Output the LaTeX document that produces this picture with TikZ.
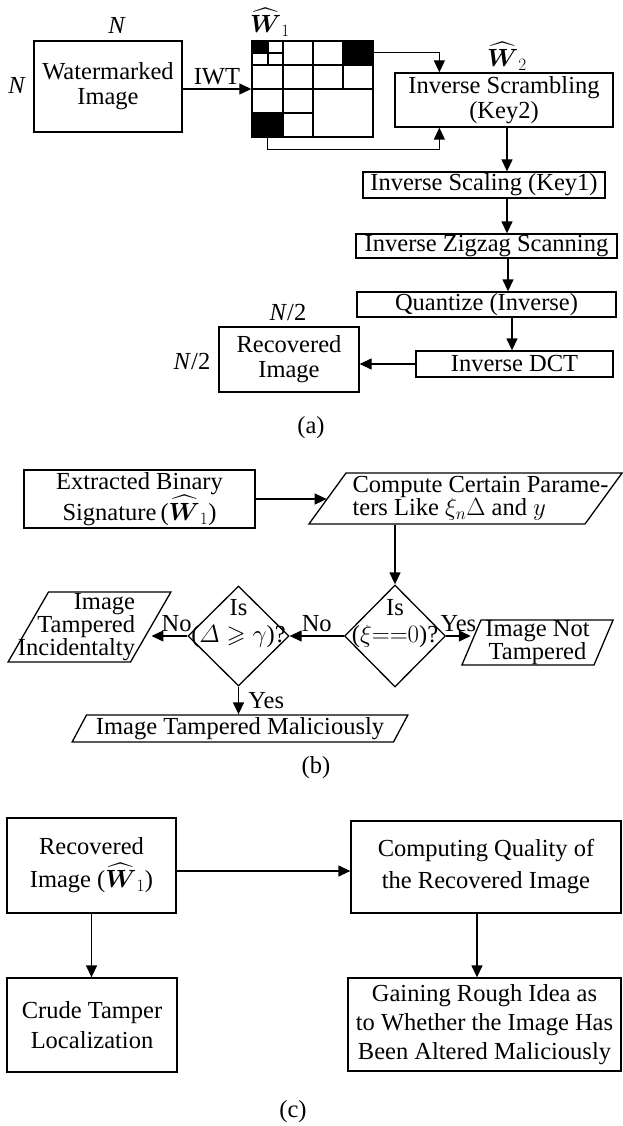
\documentclass[tikz,border=0pt]{standalone}
\usepackage{fontspec}
\setmainfont{Liberation Serif}
\usepackage{amsmath,amssymb}
\usetikzlibrary{arrows.meta,shapes.geometric,calc}

\newcommand{\Wone}{\ensuremath{\widehat{\boldsymbol{W}}_1}}
\newcommand{\Wtwo}{\ensuremath{\widehat{\boldsymbol{W}}_2}}
% empty body of a given width and height for the slanted boxes
\newcommand{\slotbox}[2]{\hspace*{#1pt}\rule{0pt}{#2pt}}

\begin{document}
\begin{tikzpicture}[
    x=1pt, y=-1pt,
    line width=1.3pt,
    font=\fontsize{24.5}{25}\selectfont,
    box/.style={draw, align=center, inner sep=0pt},
    decision/.style={diamond, draw, inner sep=0pt},
    slanted/.style={trapezium, draw, inner sep=0pt, trapezium left angle=#1, trapezium right angle=180-#1},
    arr/.style={-{Triangle[length=12pt,width=11pt]}}
]
\useasboundingbox (0,0) rectangle (622,1126);

% (a) extraction and recovery
\node[box, minimum width=148, minimum height=91] (wm) at (108,86.5) {Watermarked\\Image};
\node (wmtop) at (117,25) {\textit{N}};
\node (wmleft) at (17,85) {\textit{N}};

\node[draw, line width=1.5pt, minimum width=121, minimum height=96, inner sep=0pt] (wone) at (312.5,89) {};
\fill (252,41) rectangle (268,53);
\fill (343,41) rectangle (373,65);
\fill (252,113) rectangle (283,137);
\draw[line width=1.5pt] (283,41) -- (283,137) (313,41) -- (313,137) (343,41) -- (343,89)
    (252,65) -- (373,65) (252,89) -- (373,89) (252,113) -- (313,113)
    (268,41) -- (268,65) (252,53) -- (283,53);
\node[inner sep=0pt] (wonetag) at (270,22) {\Wone};

\node[box, minimum width=218, minimum height=54] (scr) at (504,100) {Inverse Scrambling\\(Key2)};
\node[inner sep=0pt] (wtwotag) at (507,56) {\Wtwo};
\draw[arr] (wm.east |- wone.west) -- node[above] (iwt) {IWT} (wone.west);
\coordinate (scrin) at ($(scr.north west)+(45,0)$);
\coordinate (scrback) at ($(scr.south west)+(45,0)$);
\draw[arr] ($(wone.north east)+(0,12)$) -| (scrin);
\draw[arr] ($(wone.south west)+(16,0)$) -- ++(0,12) -| (scrback);

\node[box, minimum width=242, minimum height=26] (scl) at (484,185) {Inverse Scaling (Key1)};
\coordinate (scrout) at ($(scr.south)+(3,0)$);
\draw[arr] (scrout) -- (scrout |- scl.north);
\node[box, minimum width=261, minimum height=24] (zig) at (486.5,246) {Inverse Zigzag Scanning};
\coordinate (sclout) at ($(scl.south)+(23,0)$);
\draw[arr] (sclout) -- (sclout |- zig.north);
\node[box, minimum width=259, minimum height=25] (qnt) at (486.5,304.5) {Quantize (Inverse)};
\coordinate (zigout) at ($(zig.south)+(21.5,0)$);
\draw[arr] (zigout) -- (zigout |- qnt.north);
\node[box, minimum width=197, minimum height=26] (dct) at (514.5,364) {Inverse DCT};
\coordinate (qntout) at ($(qnt.south)+(25.5,0)$);
\draw[arr] (qntout) -- (qntout |- dct.north);
\node[box, minimum width=140, minimum height=65] (rec) at (289,359.5) {Recovered\\Image};
\draw[arr] (dct.west) -- (dct.west -| rec.east);
\node (rectop) at (288,313) {\textit{N}/2};
\node (recleft) at (192,362) {\textit{N}/2};
\node (capa) at (311,428) {(a)};

% (b) authentication
\node[box, minimum width=231, minimum height=58, font=\fontsize{24.5}{30}\selectfont] (extr) at (139.5,499) {Extracted Binary\\Signature\,(\Wone)};
\node[slanted=54,
    label={[align=left, font=\fontsize{24.5}{23}\selectfont, xshift=15pt]center:{Compute Certain Parame-\\ters Like $\xi_n\Delta$ and $y$}}] (comp) at (465.5,498.5) {\slotbox{239}{51}};
\draw[arr] (extr.east) -- (extr.east -| comp.west);

\node[decision, minimum width=101, minimum height=102,
    label={[align=center, font=\fontsize{24.5}{27}\selectfont, yshift=12pt]center:{Is\\($\xi{=}{=}0$)?}}] (isxi) at (395,636) {};
\draw[arr] (comp.south -| isxi.north) -- (isxi.north);
\node[decision, minimum width=101, minimum height=100,
    label={[align=center, font=\fontsize{24.5}{27}\selectfont, yshift=12pt]center:{Is\\($\varDelta\geqslant\gamma$)?}}] (isdelta) at (238.5,636) {};
\draw[arr] (isxi.west) -- node[above] (noone) {No} (isdelta.east);

\node[slanted=60,
    label={[align=right, font=\fontsize{24.5}{20.5}\selectfont, xshift=-13pt]center:{Image\\Tampered\\Incidentalty}}] (incid) at (89.5,627) {\slotbox{82}{70}};
\draw[arr] (isdelta.west) -- node[above, pos=0.3] (notwo) {No} (isdelta.west -| incid.east);

\node[slanted=67,
    label={[align=center, font=\fontsize{24.5}{18}\selectfont]center:{Image Not\\Tampered}}] (nott) at (537.5,642.5) {\slotbox{113}{45}};
\draw[arr] (isxi.east) -- node[above] (yesone) {Yes} (isxi.east -| nott.west);

\node[slanted=62, label={center:Image Tampered Maliciously}] (mal) at (240,728.5) {\slotbox{307}{27}};
\draw[arr] (isdelta.south) -- node[right, xshift=6pt] (yestwo) {Yes} (isdelta.south |- mal.north);
\node (capb) at (316,768) {(b)};

% (c) quality check
\node[box, minimum width=169, minimum height=95, font=\fontsize{24.5}{33}\selectfont] (rectwo) at (91.5,865.5) {Recovered\\Image (\Wone)};
\node[box, minimum width=270, minimum height=92, font=\fontsize{24.5}{32}\selectfont] (qual) at (486,867) {Computing Quality of\\the Recovered Image};
\coordinate (recout) at ($(rectwo.east)+(0,5.5)$);
\draw[arr] (recout) -- (recout -| qual.west);
\node[box, minimum width=170, minimum height=94, font=\fontsize{24.5}{29.5}\selectfont] (crude) at (92,1025) {Crude Tamper\\Localization};
\draw[arr] (rectwo.south) -- (rectwo.south |- crude.north);
\node[box, minimum width=273, minimum height=93, font=\fontsize{24.5}{29}\selectfont] (gain) at (484.5,1024.5) {Gaining Rough Idea as\\to Whether the Image Has\\Been Altered Maliciously};
\coordinate (qualout) at ($(qual.south)+(-9,0)$);
\draw[arr] (qualout) -- (qualout |- gain.north);
\node (capc) at (293,1112) {(c)};
\end{tikzpicture}
\end{document}
